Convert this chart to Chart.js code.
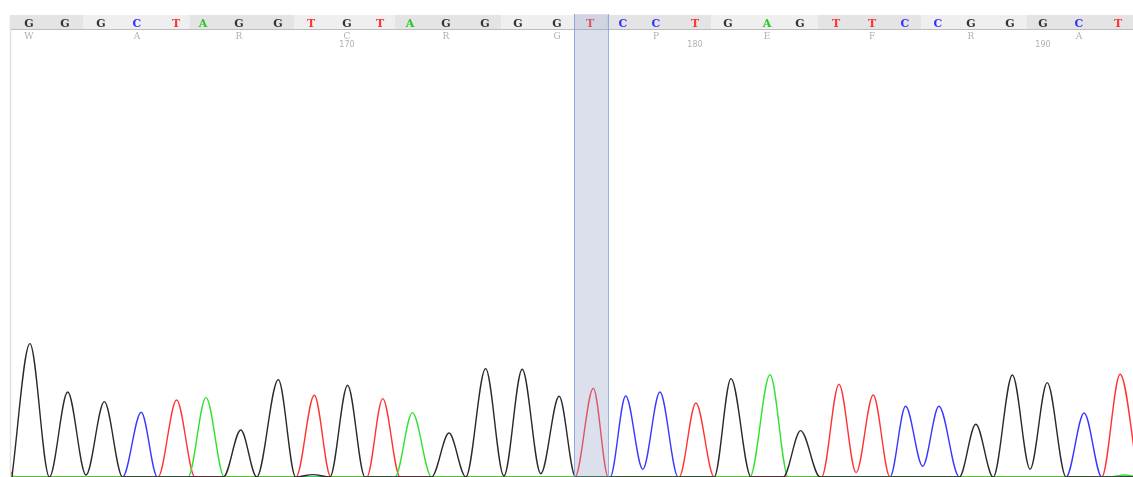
<!DOCTYPE html>
<html>
<head>
<meta charset="utf-8">
<title>Chromatogram</title>
<script src="https://cdn.jsdelivr.net/npm/chart.js@4.4.0/dist/chart.umd.min.js"></script>
<style>
  html, body { margin: 0; padding: 0; background: #fff; }
  #wrap { width: 1133px; height: 477px; position: relative; }
</style>
</head>
<body>
<div id="wrap"><canvas id="traceChart" width="1133" height="477"></canvas></div>
<script>
// base calls and where they sit (scan numbers)
const baseCalls = ['G','G','G','C','T','A','G','G','T','G','T','A','G','G','G','G','T','C','C','T','G','A','G','T','T','C','C','G','G','G','C','T'];
const baseScans = [1936,1948,1960,1972,1985,1994,2006,2019,2030,2042,2053,2063,2075,2088,2099,2112,2123,2134,2145,2158,2169,2182,2193,2205,2217,2228,2239,2250,2263,2274,2286,2299];
const firstBaseNumber = 161;
const positionTicks = [170, 180, 190];
const selectedBase = 16;

// translation, letter sits under middle base of each codon
const aminoAcids = ['W','A','R','C','R','G','P','E','F','R','A'];
const aminoAcidBase = [0,3,6,9,12,15,18,21,24,27,30];

// traces: scan -> signal
const traceG_scan = [1930.3,1936.3,1942.8,1948.9,1955.0,1961.1,1967.2,2000.8,2006.6,2011.9,2019.1,2024.9,2030.6,2036.3,2042.2,2048.0,2070.2,2076.0,2081.6,2088.2,2094.3,2100.4,2106.6,2112.7,2118.2,2164.4,2170.0,2176.7,2187.4,2193.2,2199.7,2246.1,2251.6,2257.4,2263.8,2269.7,2275.4,2281.7,2304.0];
const traceG_signal = [0,667,0,425,10,377,0,0,235,0,487,0,12,0,459,0,0,220,0,542,5,539,17,404,0,0,492,0,0,232,0,0,264,0,510,39,472,0,0];

const traceA_scan = [1930,1989.0,1995.0,2001.1,2058.0,2063.8,2070.2,2176.3,2183.0,2189.1,2296.0,2301.3,2304];
const traceA_signal = [0,0,397,0,0,322,0,0,512,0,0,10,4];

const traceT_scan = [1930,1931.0,1979.0,1985.2,1991.3,2025.0,2031.1,2036.6,2048.6,2053.9,2059.7,2118.0,2124.1,2129.1,2152.7,2158.3,2164.4,2200.2,2206.0,2211.7,2217.4,2223.0,2293.6,2299.7,2305.7];
const traceT_signal = [25,0,0,385,0,0,409,0,0,392,0,0,444,0,0,370,0,0,464,22,410,0,0,514,0];

const traceC_scan = [1930,1967.2,1973.4,1978.8,2129.7,2134.9,2140.6,2146.3,2152.4,2223.0,2228.2,2233.9,2239.3,2246.1,2281.7,2287.7,2293.6,2304];
const traceC_signal = [0,0,324,0,0,405,39,425,0,0,354,54,354,0,0,320,0,0];

const baseColors = { G: '#333333', A: '#22cc22', T: '#ff3333', C: '#3333ff' };

function toPoints(xs, ys) {
    return xs.map((x, i) => ({ x: x, y: ys[i] }));
}

// header strip, translation, position numbers and the selected column
const headerPlugin = {
    id: 'header',
    afterDatasetsDraw(chart) {
        const ctx = chart.ctx;
        const xs = chart.scales.x;
        const area = chart.chartArea;
        ctx.save();

        // left edge
        ctx.strokeStyle = '#e2e2e2';
        ctx.lineWidth = 1.5;
        ctx.beginPath();
        ctx.moveTo(area.left - 0.5, 15);
        ctx.lineTo(area.left - 0.5, chart.height);
        ctx.stroke();

        // codon blocks
        const edges = [area.left];
        for (let k = 1; k < baseScans.length - 1; k += 3) {
            edges.push(xs.getPixelForValue((baseScans[k] + baseScans[k + 1]) / 2));
        }
        edges.push(area.right);
        for (let i = 0; i < edges.length - 1; i++) {
            ctx.fillStyle = i % 2 === 0 ? '#e4e4e4' : '#efefef';
            ctx.fillRect(edges[i], 15, edges[i + 1] - edges[i], 14);
        }
        ctx.strokeStyle = '#bdbdbd';
        ctx.lineWidth = 1;
        ctx.beginPath();
        ctx.moveTo(area.left, 29.5);
        ctx.lineTo(area.right, 29.5);
        ctx.stroke();

        // base letters
        ctx.textAlign = 'center';
        ctx.textBaseline = 'alphabetic';
        ctx.font = 'bold 11px "DejaVu Serif"';
        baseCalls.forEach((b, i) => {
            ctx.fillStyle = baseColors[b];
            ctx.fillText(b, xs.getPixelForValue(baseScans[i]), 27);
        });

        // amino acids
        ctx.font = '9px "DejaVu Serif"';
        ctx.fillStyle = '#b0b0b0';
        aminoAcids.forEach((aa, i) => {
            ctx.fillText(aa, xs.getPixelForValue(baseScans[aminoAcidBase[i]]), 39);
        });

        // position numbers
        ctx.font = '8px "DejaVu Sans"';
        positionTicks.forEach(n => {
            const idx = n - firstBaseNumber;
            ctx.fillText(String(n), xs.getPixelForValue(baseScans[idx]), 47);
        });

        // selected base column
        const left = Math.round(xs.getPixelForValue((baseScans[selectedBase - 1] + baseScans[selectedBase]) / 2));
        const right = Math.round(xs.getPixelForValue((baseScans[selectedBase] + baseScans[selectedBase + 1]) / 2)) + 1;
        ctx.fillStyle = 'rgba(149,161,197,0.33)';
        ctx.fillRect(left, 14, right - left, chart.height - 14);
        ctx.strokeStyle = 'rgba(120,150,210,0.75)';
        ctx.beginPath();
        ctx.moveTo(left + 0.5, 14);
        ctx.lineTo(left + 0.5, chart.height);
        ctx.moveTo(right + 0.5, 14);
        ctx.lineTo(right + 0.5, chart.height);
        ctx.stroke();

        ctx.restore();
    }
};

function traceDataset(label, xs, ys, color) {
    return {
        label: label,
        data: toPoints(xs, ys),
        borderColor: color,
        borderWidth: 1.4,
        showLine: true,
        pointRadius: 0,
        fill: false,
        cubicInterpolationMode: 'monotone'
    };
}

const ctx = document.getElementById('traceChart').getContext('2d');
new Chart(ctx, {
    type: 'scatter',
    data: {
        datasets: [
            traceDataset('G', traceG_scan, traceG_signal, '#2a2a2a'),
            traceDataset('A', traceA_scan, traceA_signal, '#33e033'),
            traceDataset('T', traceT_scan, traceT_signal, '#ff3333'),
            traceDataset('C', traceC_scan, traceC_signal, '#3838ff')
        ]
    },
    options: {
        responsive: false,
        animation: false,
        layout: { padding: { left: 11, right: 0, top: 0, bottom: 0 } },
        plugins: {
            legend: { display: false },
            tooltip: { enabled: false }
        },
        scales: {
            x: { type: 'linear', min: 1930, max: 2304, display: false },
            y: { min: 0, max: 2385, display: false }
        }
    },
    plugins: [headerPlugin]
});
</script>
</body>
</html>
